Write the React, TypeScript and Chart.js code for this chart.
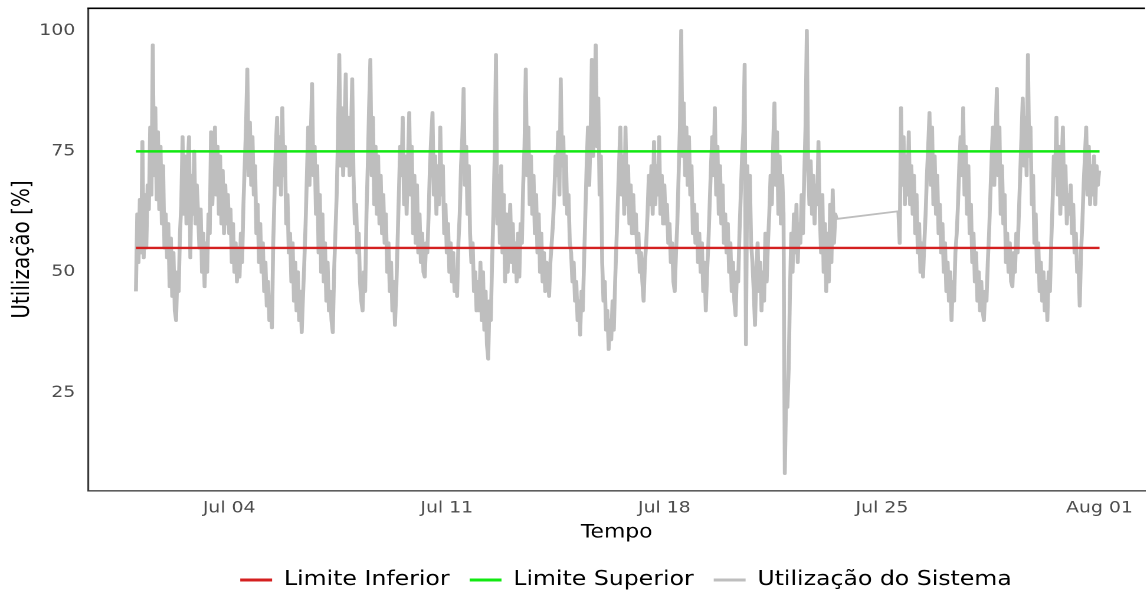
import { useEffect, useRef } from "react";
import { Chart, registerables } from "chart.js";

Chart.register(...registerables);

// ---------- data ----------
// hourly samples, day 0 = Jul 01 00:00 (x axis unit = days)
const segmentAStartDay = 0; // Jul 01 00:00
const segmentBStartDay = 24.53; // Jul 25 ~12:45 (after the gap in the record)

// Jul 01 00h .. Jul 23 13h, one value per hour (one row per day)
const hourlyUtilJul01toJul23: number[] = [
  46, 62, 52, 65, 54, 77, 53, 66, 55, 68, 63, 80, 66, 97, 70, 84, 65, 79, 63, 76, 60, 72, 55, 62,
  53, 60, 47, 57, 45, 54, 42, 40, 50, 46, 58, 64, 78, 62, 74, 60, 72, 78, 53, 70, 62, 75, 60, 68,
  62, 55, 63, 50, 58, 47, 56, 50, 62, 58, 79, 64, 72, 80, 66, 76, 62, 74, 60, 71, 58, 68, 60, 66,
  58, 63, 52, 60, 50, 56, 48, 55, 49, 58, 52, 64, 72, 80, 92, 70, 81, 68, 78, 66, 72, 58, 64, 52,
  60, 50, 56, 46, 52, 43, 48, 40, 44, 38.5, 56, 66, 76, 82, 68, 78, 66, 84, 70, 76, 60, 66, 54, 58,
  48, 56, 44, 52, 42, 50, 40, 46, 37.5, 45, 52, 60, 70, 80, 68, 78, 89, 70, 76, 62, 72, 54, 66, 50,
  62, 48, 56, 44, 52, 42, 46, 40, 37.5, 50, 58, 66, 78, 95, 72, 84, 70, 80, 91, 72, 82, 70, 78, 90,
  70, 60, 64, 54, 58, 48, 44, 42, 50, 46, 62, 72, 84, 94, 70, 82, 64, 76, 62, 74, 60, 70, 58, 66,
  56, 62, 50, 56, 46, 52, 42, 48, 39, 46, 56, 66, 76, 70, 82, 64, 74, 62, 72, 83, 66, 76, 58, 70,
  56, 68, 54, 62, 52, 58, 50, 49, 56, 54, 62, 72, 78, 83, 66, 74, 62, 72, 64, 80, 66, 72, 58, 64,
  54, 60, 50, 56, 48, 54, 46, 50, 45, 56, 62, 72, 78, 88, 68, 76, 62, 72, 58, 52, 56, 46, 50, 42,
  48, 42, 52, 40, 50, 38, 46, 35, 32, 44, 40, 52, 62, 74, 95, 60, 70, 56, 72, 54, 66, 48, 62, 50,
  58, 64, 52, 60, 50, 56, 48, 58, 49, 60, 56, 68, 76, 92, 70, 80, 64, 74, 62, 70, 58, 66, 54, 62,
  50, 58, 48, 54, 46, 52, 50, 45, 52, 56, 60, 66, 74, 70, 79, 66, 90, 72, 78, 64, 74, 62, 66, 56,
  54, 48, 52, 44, 48, 40, 44, 37, 46, 42, 52, 62, 72, 80, 68, 78, 94, 74, 84, 97, 76, 86, 66, 74,
  52, 44, 48, 38, 42, 34, 40, 36, 44, 38, 48, 56, 64, 72, 80, 66, 74, 62, 80, 64, 72, 60, 68, 58,
  66, 58, 62, 54, 58, 50, 54, 48, 44, 52, 56, 62, 70, 64, 72, 62, 77, 64, 72, 66, 78, 62, 70, 60,
  68, 60, 64, 56, 60, 52, 56, 48, 46, 54, 60, 70, 80, 100, 74, 85, 70, 80, 68, 78, 66, 72, 58, 64,
  56, 62, 52, 58, 50, 56, 46, 52, 42, 50, 56, 64, 72, 78, 70, 84, 66, 76, 62, 72, 60, 68, 56, 62,
  54, 60, 50, 56, 46, 52, 44, 41, 50, 48, 58, 66, 74, 79, 93, 35, 72, 62, 70, 56, 52, 46, 39, 50,
  56, 46, 52, 42, 50, 44, 58, 48, 56, 62, 70, 64, 76, 85, 68, 79, 62, 74, 60, 70, 62, 8.3, 24, 22,
  30, 46, 58, 50, 62, 54, 64, 52, 60, 56, 66, 58, 70, 80, 100, 72, 64, 73, 62, 70, 60, 68, 64, 77,
  62, 54, 66, 50, 60, 46, 58, 48, 64, 52, 67, 56, 62, 61,
];

// Jul 25 ~12:45 .. Jul 31 ~23:45, one value per hour
const hourlyUtilJul25toJul31: number[] = [
  62.6, 56, 84, 68, 78, 64, 74, 66, 79, 64, 72, 62,
  70, 58, 66, 54, 60, 50, 56, 49, 56, 62, 70, 76, 83, 68, 80, 64, 74, 62, 70, 58, 64, 54, 60, 50,
  56, 46, 52, 44, 50, 40, 48, 44, 54, 58, 64, 72, 78, 70, 84, 66, 76, 62, 72, 58, 64, 52, 58, 48,
  54, 44, 50, 42, 48, 42, 40, 46, 44, 52, 58, 66, 74, 80, 68, 78, 88, 70, 80, 62, 72, 60, 66, 52,
  58, 50, 56, 48, 47, 54, 50, 58, 54, 62, 70, 78, 86, 72, 82, 70, 95, 74, 80, 64, 70, 56, 62, 50,
  56, 46, 52, 44, 50, 42, 48, 40, 50, 46, 56, 64, 74, 70, 82, 66, 76, 62, 72, 80, 64, 72, 60, 66,
  62, 68, 58, 64, 54, 58, 50, 52, 43, 54, 60, 68, 74, 80, 66, 76, 64, 72, 66, 74, 64, 72, 68, 71,
];

const limiteInferior = 55;
const limiteSuperior = 75;
const limitSpanDays = [0, 31]; // Jul 01 .. Aug 01

const xTickDays = [3, 10, 17, 24, 31];
const xTickLabels = ["Jul 04", "Jul 11", "Jul 18", "Jul 25", "Aug 01"];
const yTickValues = [25, 50, 75, 100];

// ---------- layout (drawn narrower, then stretched horizontally like the reference) ----------
const OUT_W = 1147;
const OUT_H = 603;
const INNER_W = 972;
const STRETCH = OUT_W / INNER_W;
const FONT = "'DejaVu Sans', 'Noto Sans', sans-serif";
const PLOT_LEFT = 74.83;
const PLOT_TOP = 8.3;
const PLOT_BOTTOM = 490.7;
const PAD_BOTTOM = 3;
const LEGEND_LEFT = 89;

export default function App() {
  const canvasRef = useRef<HTMLCanvasElement | null>(null);

  useEffect(() => {
    if (!canvasRef.current) return;

    const utilPoints = [
      ...hourlyUtilJul01toJul23.map((v, i) => ({ x: segmentAStartDay + i / 24, y: v })),
      ...hourlyUtilJul25toJul31.map((v, i) => ({ x: segmentBStartDay + i / 24, y: v })),
    ];

    const framePlugin = {
      id: "frameAndLegend",
      afterLayout(chart: any) {
        if (chart.legend) chart.legend.left = LEGEND_LEFT;
      },
      afterDraw(chart: any) {
        const { ctx, chartArea } = chart;
        ctx.save();
        ctx.strokeStyle = "#000";
        ctx.lineWidth = 1.6;
        ctx.beginPath();
        ctx.moveTo(chartArea.left - 0.8, chartArea.top);
        ctx.lineTo(chartArea.right, chartArea.top);
        ctx.stroke();
        ctx.restore();
      },
    };

    const chart = new Chart(canvasRef.current, {
      type: "line",
      data: {
        datasets: [
          {
            label: "Limite Inferior",
            data: limitSpanDays.map((d) => ({ x: d, y: limiteInferior })),
            borderColor: "#d42020",
            backgroundColor: "#d42020",
            borderWidth: 2.4,
          },
          {
            label: "Limite Superior",
            data: limitSpanDays.map((d) => ({ x: d, y: limiteSuperior })),
            borderColor: "#12e812",
            backgroundColor: "#12e812",
            borderWidth: 2.4,
          },
          {
            label: "Utilização do Sistema",
            data: utilPoints,
            borderColor: "#bebebe",
            backgroundColor: "#bebebe",
            borderWidth: 3.3,
            borderJoinStyle: "round",
            borderCapStyle: "butt",
            segment: {
              // the long jump across the missing record is a single thin stroke
              borderWidth: (ctx: any) =>
                ctx.p1.parsed.x - ctx.p0.parsed.x > 0.5 ? 1.8 : undefined,
            },
          },
        ],
      },
      options: {
        animation: false,
        responsive: true,
        maintainAspectRatio: false,
        devicePixelRatio: 2,
        events: [],
        layout: { padding: { left: 0, right: 0, top: PLOT_TOP, bottom: PAD_BOTTOM } },
        elements: { point: { radius: 0 }, line: { tension: 0 } },
        plugins: {
          tooltip: { enabled: false },
          legend: {
            position: "bottom",
            labels: {
              boxWidth: 27,
              boxHeight: 3,
              padding: 17,
              color: "#000",
              font: { family: FONT, size: 20 },
              generateLabels: (c: any) =>
                c.data.datasets.map((ds: any, i: number) => ({
                  text: ds.label,
                  fillStyle: ds.borderColor,
                  strokeStyle: ds.borderColor,
                  lineWidth: 0,
                  hidden: false,
                  datasetIndex: i,
                  fontColor: "#000",
                })),
            },
          },
        },
        scales: {
          x: {
            type: "linear",
            min: -1.532,
            max: 32.465,
            grid: { display: false, drawTicks: false },
            border: { display: true, color: "#5e5e5e", width: 1.6 },
            afterBuildTicks: (scale: any) => {
              scale.ticks = xTickDays.map((v) => ({ value: v }));
            },
            afterFit: (scale: any) => {
              const lg = scale.chart.legend;
              const lh = lg ? lg.height : 0;
              scale.height = OUT_H - PAD_BOTTOM - lh - PLOT_BOTTOM;
              scale.paddingLeft = 0;
              scale.paddingRight = 0;
            },
            ticks: {
              autoSkip: false,
              maxRotation: 0,
              padding: 8,
              color: "#4d4d4d",
              font: { family: FONT, size: 16 },
              callback: (value: any) => {
                const idx = xTickDays.indexOf(Number(value));
                return idx >= 0 ? xTickLabels[idx] : "";
              },
            },
            title: {
              display: true,
              text: "Tempo",
              color: "#000",
              font: { family: FONT, size: 18.5 },
              padding: { top: 0, bottom: 9 },
            },
          },
          y: {
            type: "linear",
            min: 4.7,
            max: 104.64,
            grid: { display: false, drawTicks: false },
            border: { display: true, color: "#3a3a3a", width: 1.6 },
            afterBuildTicks: (scale: any) => {
              scale.ticks = yTickValues.map((v) => ({ value: v }));
            },
            afterFit: (scale: any) => {
              scale.width = PLOT_LEFT;
              scale.paddingTop = 0;
              scale.paddingBottom = 0;
            },
            ticks: {
              autoSkip: false,
              padding: 11,
              color: "#4d4d4d",
              font: { family: FONT, size: 16 },
              callback: (value: any) => String(value),
            },
            title: {
              display: true,
              text: "Utilização [%]",
              color: "#000",
              font: { family: FONT, size: 20 },
              padding: { top: 7.5, bottom: 0 },
            },
          },
        },
      },
      plugins: [framePlugin],
    } as any);

    return () => chart.destroy();
  }, []);

  return (
    <div
      style={{
        position: "fixed",
        left: 0,
        top: 0,
        width: OUT_W,
        height: OUT_H,
        overflow: "hidden",
        background: "#fff",
      }}
    >
      <div
        style={{
          width: INNER_W,
          height: OUT_H,
          transform: `scaleX(${STRETCH})`,
          transformOrigin: "0 0",
        }}
      >
        <canvas ref={canvasRef} />
      </div>
    </div>
  );
}
